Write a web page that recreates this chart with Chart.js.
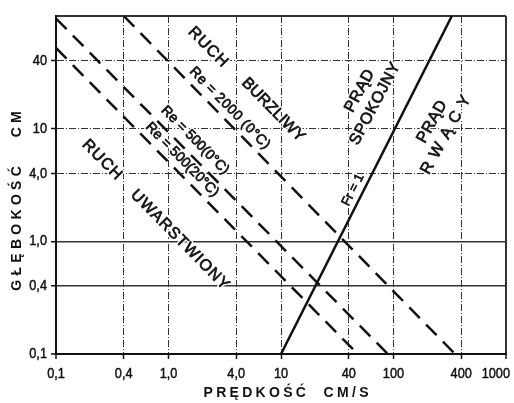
<!DOCTYPE html>
<html>
<head>
<meta charset="utf-8">
<script src="https://cdn.jsdelivr.net/npm/chart.js@4.4.0/dist/chart.umd.min.js"></script>
<style>
  html, body { margin: 0; padding: 0; background: #fff; }
</style>
</head>
<body>
<canvas id="chart" width="514" height="403"></canvas>
<script>
// axis ticks (log scales)
const xTicks = [0.1, 0.4, 1, 4, 10, 40, 100, 400, 1000];
const xTickLabels = ['0,1', '0,4', '1,0', '4,0', '10', '40', '100', '400', '1000'];
const yTicks = [0.1, 0.4, 1, 4, 10, 40, 100];
const yTickLabels = ['0,1', '0,4', '1,0', '4,0', '10', '40', ''];

// lines: velocity [cm/s] and depth [cm]
const fr1V = [10, 330];
const fr1H = [0.1, 100];
const re2000V = [0.4, 352];
const re2000H = [100, 0.1];
const re500coldV = [0.1, 89];
const re500coldH = [95, 0.1];
const re500warmV = [0.1, 48];
const re500warmH = [52, 0.1];

// region / line labels, anchored at (velocity, depth)
const noteText = ['RUCH', 'BURZLIWY', 'RUCH', 'UWARSTWIONY', 'Re = 2000 (0°C)', 'Re = 500(0°C)', 'Re = 500(20°C)',
  'PRĄD', 'SPOKOJNY', 'PRĄD', 'RWĄCY', 'Fr = 1'];
const noteV = [2.24, 8.5, 0.256, 1.26, 3.5, 1.72, 1.32, 50, 68.6, 220, 293, 43.7];
const noteH = [53, 14.7, 5.3, 1.03, 15.2, 7.9, 5.3, 21.6, 16.6, 11.5, 8.8, 2.86];

function pts(vs, hs) {
  return vs.map((v, i) => ({x: v, y: hs[i]}));
}

const ink = '#111';
const DASH = [15, 9];

function lineSet(vs, hs, dash) {
  return {
    data: pts(vs, hs),
    showLine: true,
    borderColor: ink,
    borderWidth: 2.5,
    borderDash: dash,
    pointRadius: 0,
    fill: false,
  };
}

function drawText(ctx, str, x, y, angle, font, spacing, sx, align, weight) {
  ctx.save();
  ctx.translate(x, y);
  ctx.rotate(angle * Math.PI / 180);
  if (sx) ctx.scale(sx, 1);
  ctx.font = font;
  ctx.letterSpacing = (spacing || 0) + 'px';
  ctx.textAlign = align || 'center';
  ctx.textBaseline = 'middle';
  const dx = (align === 'right') ? 0 : (spacing || 0) / 2;
  ctx.lineJoin = 'round';
  ctx.lineWidth = 3.5;
  ctx.strokeStyle = '#fff';
  ctx.strokeText(str, dx, 0);
  ctx.fillStyle = ink;
  ctx.fillText(str, dx, 0);
  // heavier strokes, like the drawn lettering
  const w = weight === undefined ? 0.7 : weight;
  if (w > 0) {
    ctx.lineWidth = w;
    ctx.strokeStyle = ink;
    ctx.strokeText(str, dx, 0);
  }
  ctx.restore();
}

// labels, titles and notes
const textPlugin = {
  id: 'texts',
  afterDraw(chart) {
    const ctx = chart.ctx;
    const xs = chart.scales.x;
    const ys = chart.scales.y;
    const area = chart.chartArea;
    const tickFont = '15px "Liberation Sans", Arial, sans-serif';

    xTicks.forEach((v, i) => {
      const last = i === xTicks.length - 1;
      const px = xs.getPixelForValue(v);
      drawText(ctx, xTickLabels[i], last ? px + 4 : px, area.bottom + 20, 0, tickFont, 0, 0.85, last ? 'right' : 'center', 0.5);
    });
    yTicks.forEach((v, i) => {
      if (!yTickLabels[i]) return;
      drawText(ctx, yTickLabels[i], area.left - 9, ys.getPixelForValue(v), 0, tickFont, 0, 0.85, 'right', 0.5);
    });

    const titleFont = 'bold 14px "Liberation Sans", Arial, sans-serif';
    drawText(ctx, 'PRĘDKOŚĆ  CM/S', 286, 393, 0, titleFont, 3.3, 0, 'center', 0);
    drawText(ctx, 'GŁĘBOKOŚĆ   CM', 17, 201, -90, titleFont, 4.3, 0, 'center', 0);

    // angles follow the drawn lines
    const ang = (vs, hs) => {
      const x1 = xs.getPixelForValue(vs[0]), y1 = ys.getPixelForValue(hs[0]);
      const x2 = xs.getPixelForValue(vs[1]), y2 = ys.getPixelForValue(hs[1]);
      return Math.atan2(y2 - y1, x2 - x1) * 180 / Math.PI;
    };
    const aRe = ang(re2000V, re2000H);
    const aFr = ang(fr1V, fr1H);
    const bigFont = '16px "Liberation Sans", Arial, sans-serif';
    const reFont = '14px "Liberation Sans", Arial, sans-serif';
    const styles = [
      [aRe, bigFont, 1], [aRe, bigFont, 0], [aRe, bigFont, 1], [aRe, bigFont, 1],
      [aRe, reFont, 0.5], [ang(re500coldV, re500coldH), reFont, 0], [ang(re500warmV, re500warmH), reFont, 0],
      [-62, bigFont, 0.5], [-62, bigFont, 0.5], [-61, bigFont, 0.5], [-61, bigFont, 7],
      [aFr, '13px "Liberation Sans", Arial, sans-serif', 0],
    ];
    noteText.forEach((t, i) => {
      const s = styles[i];
      drawText(ctx, t, xs.getPixelForValue(noteV[i]), ys.getPixelForValue(noteH[i]), s[0], s[1], s[2]);
    });
  }
};

function gridWidth(c, special) {
  if (!c.tick) return 1;
  const v = c.tick.value;
  if (v === c.scale.min || v === c.scale.max) return 2;
  if (special.includes(v)) return 1.5;
  return 1;
}
function gridDash(c, special) {
  if (!c.tick) return [];
  const v = c.tick.value;
  if (v === c.scale.min || v === c.scale.max || special.includes(v)) return [];
  return [7, 2, 1, 2];
}

const chart = new Chart(document.getElementById('chart').getContext('2d'), {
  type: 'scatter',
  data: {
    datasets: [
      lineSet(fr1V, fr1H, []),
      lineSet(re2000V, re2000H, DASH),
      lineSet(re500coldV, re500coldH, DASH),
      lineSet(re500warmV, re500warmH, DASH),
    ]
  },
  options: {
    responsive: false,
    animation: false,
    events: [],
    layout: { padding: { left: 51, right: 8, top: 16, bottom: 44 } },
    plugins: { legend: { display: false }, tooltip: { enabled: false } },
    scales: {
      x: {
        type: 'logarithmic',
        min: 0.1,
        max: 1000,
        afterBuildTicks: s => { s.ticks = xTicks.map(v => ({value: v})); },
        ticks: { display: false },
        grid: {
          color: '#333',
          lineWidth: c => gridWidth(c, []),
          tickLength: 5,
          tickWidth: 1.5,
          tickColor: ink,
        },
        border: { display: true, width: 2, color: ink, dash: c => gridDash(c, []) },
      },
      y: {
        type: 'logarithmic',
        min: 0.1,
        max: 100,
        afterBuildTicks: s => { s.ticks = yTicks.map(v => ({value: v})); },
        ticks: { display: false },
        grid: {
          color: '#333',
          lineWidth: c => gridWidth(c, [1, 0.4]),
          tickLength: 5,
          tickWidth: 1.5,
          tickColor: c => (c.tick && c.tick.value === 100) ? 'rgba(0,0,0,0)' : ink,
        },
        border: { display: true, width: 2, color: ink, dash: c => gridDash(c, [1, 0.4]) },
      }
    }
  },
  plugins: [textPlugin]
});
</script>
</body>
</html>
